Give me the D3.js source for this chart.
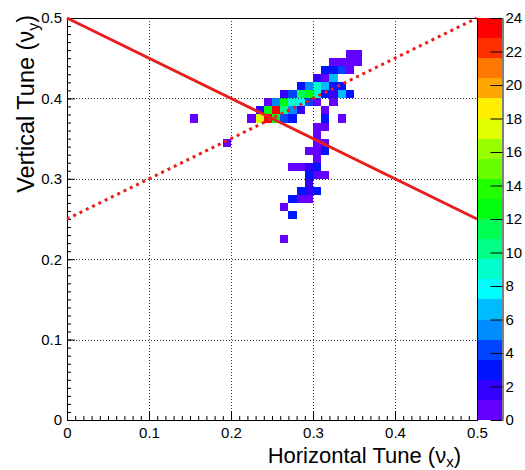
<!DOCTYPE html>
<html>
<head>
<meta charset="utf-8">
<script src="https://cdn.jsdelivr.net/npm/d3@7"></script>
<style>
  body { margin: 0; background: #fff; }
  text { font-family: "Liberation Sans", Arial, Helvetica, sans-serif; fill: #000; }
</style>
</head>
<body>
<svg id="chart" width="525" height="470"></svg>
<script>
// bin lower edges (nu_x, nu_y) and entries of the tune histogram
const tuneX = [
  0.34, 0.35,
  0.32, 0.33, 0.34, 0.35,
  0.31, 0.32, 0.33, 0.34,
  0.30, 0.31, 0.32,
  0.28, 0.29, 0.30, 0.31, 0.32, 0.33,
  0.26, 0.27, 0.28, 0.29, 0.30, 0.31, 0.32, 0.33, 0.34,
  0.24, 0.25, 0.26, 0.27, 0.28, 0.29, 0.30, 0.32,
  0.23, 0.24, 0.25, 0.26, 0.27, 0.28, 0.31,
  0.15, 0.22, 0.23, 0.24, 0.25, 0.26, 0.27, 0.31, 0.33,
  0.30, 0.31,
  0.30,
  0.19, 0.30, 0.31,
  0.29, 0.30, 0.31,
  0.30,
  0.27, 0.28, 0.29, 0.30,
  0.29, 0.30, 0.31,
  0.29,
  0.28, 0.29, 0.30,
  0.27, 0.28, 0.29,
  0.26,
  0.27,
  0.26
]
const tuneY = [
  0.45, 0.45,
  0.44, 0.44, 0.44, 0.44,
  0.43, 0.43, 0.43, 0.43,
  0.42, 0.42, 0.42,
  0.41, 0.41, 0.41, 0.41, 0.41, 0.41,
  0.40, 0.40, 0.40, 0.40, 0.40, 0.40, 0.40, 0.40, 0.40,
  0.39, 0.39, 0.39, 0.39, 0.39, 0.39, 0.39, 0.39,
  0.38, 0.38, 0.38, 0.38, 0.38, 0.38, 0.38,
  0.37, 0.37, 0.37, 0.37, 0.37, 0.37, 0.37, 0.37, 0.37,
  0.36, 0.36,
  0.35,
  0.34, 0.34, 0.34,
  0.33, 0.33, 0.33,
  0.32,
  0.31, 0.31, 0.31, 0.31,
  0.30, 0.30, 0.30,
  0.29,
  0.28, 0.28, 0.28,
  0.27, 0.27, 0.27,
  0.26,
  0.25,
  0.22
]
const counts = [
  1, 1,
  1, 1, 1, 1,
  3, 3, 4, 1,
  2, 1, 7,
  3, 5, 9, 7, 3, 3,
  2, 4, 11, 13, 9, 3, 2, 7, 3,
  1, 5, 13, 9, 8, 4, 1, 1,
  2, 13, 24, 10, 5, 2, 1,
  1, 1, 17, 23, 13, 4, 3, 3, 1,
  1, 1,
  1,
  1, 1, 1,
  1, 1, 3,
  1,
  1, 1, 2, 3,
  3, 1, 1,
  2,
  3, 2, 3,
  3, 1, 1,
  1,
  3,
  1
]

const binWidth = 0.01
const axisTicks = [0, 0.1, 0.2, 0.3, 0.4, 0.5]
const zTicks = [0, 2, 4, 6, 8, 10, 12, 14, 16, 18, 20, 22, 24]
const zMax = 24
const nContours = 20

// resonance lines
const lineSolid = [[0, 0.5], [0.5, 0.25]]
const lineDotted = [[0, 0.25], [0.5, 0.5]]

const svg = d3.select('#chart')
const fLeft = 67, fRight = 477, fTop = 18, fBottom = 420

const x = d3.scaleLinear().domain([0, 0.5]).range([fLeft, fRight])
const y = d3.scaleLinear().domain([0, 0.5]).range([fBottom, fTop])
const z = d3.scaleLinear().domain([0, zMax]).range([fBottom, fTop])

// ROOT "pretty" palette, 20 contours picked out of 50 colours
const palette = d3.range(nContours).map(c => {
  const i = Math.floor((c + 0.99) * 50 / nContours)
  return d3.hsl(280 - (i + 1) * 5.6, 1, 0.5).formatHex()
})
const colorScale = d3.scaleQuantize().domain([0, zMax]).range(palette)

const cells = counts.map((v, i) => ({ x: tuneX[i], y: tuneY[i], v: v }))

svg.append('rect')
  .attr('width', 525).attr('height', 470).attr('fill', '#fff')

const g = svg.append('g')

g.selectAll('rect.cell')
  .data(cells)
  .enter()
  .append('rect')
  .attr('class', 'cell')
  .attr('x', d => x(d.x))
  .attr('y', d => y(d.y + binWidth))
  .attr('width', d => x(d.x + binWidth) - x(d.x))
  .attr('height', d => y(d.y) - y(d.y + binWidth))
  .attr('fill', d => colorScale(Math.min(d.v, zMax - 1e-6)))
  .attr('shape-rendering', 'crispEdges')

// dotted grid
const gridVals = axisTicks.slice(1, -1)
g.selectAll('line.gx')
  .data(gridVals).enter().append('line')
  .attr('x1', d => Math.round(x(d)) + 0.5).attr('x2', d => Math.round(x(d)) + 0.5)
  .attr('y1', fTop).attr('y2', fBottom)
  .attr('stroke', '#333').attr('stroke-dasharray', '1,2')
g.selectAll('line.gy')
  .data(gridVals).enter().append('line')
  .attr('y1', d => Math.round(y(d)) + 0.5).attr('y2', d => Math.round(y(d)) + 0.5)
  .attr('x1', fLeft).attr('x2', fRight)
  .attr('stroke', '#333').attr('stroke-dasharray', '1,2')

// axes
const minorVals = d3.range(0, 51).map(i => i / 100)

svg.append('g')
  .attr('transform', `translate(0,${fBottom})`)
  .call(d3.axisBottom(x).tickValues(minorVals).tickSize(-4).tickFormat(''))
  .call(a => a.select('.domain').remove())

svg.append('g')
  .attr('transform', `translate(0,${fBottom})`)
  .call(d3.axisBottom(x).tickValues(axisTicks).tickSize(-9).tickPadding(7)
    .tickFormat(d => d === 0 ? '0' : d3.format('.1f')(d)))
  .call(a => a.select('.domain').remove())
  .selectAll('text').attr('font-size', 15)

svg.append('g')
  .attr('transform', `translate(${fLeft},0)`)
  .call(d3.axisLeft(y).tickValues(minorVals).tickSize(-4).tickFormat(''))
  .call(a => a.select('.domain').remove())

svg.append('g')
  .attr('transform', `translate(${fLeft},0)`)
  .call(d3.axisLeft(y).tickValues(axisTicks).tickSize(-8).tickPadding(5)
    .tickFormat(d => d === 0 ? '0' : d3.format('.1f')(d)))
  .call(a => a.select('.domain').remove())
  .selectAll('text').attr('font-size', 15)

svg.selectAll('.tick line').attr('stroke', '#000')

// frame
svg.append('rect')
  .attr('x', fLeft + 0.5).attr('y', fTop + 0.5)
  .attr('width', fRight - fLeft).attr('height', fBottom - fTop)
  .attr('fill', 'none').attr('stroke', '#000')

// resonance lines
const lineGen = d3.line().x(d => x(d[0])).y(d => y(d[1]))
svg.append('path')
  .attr('d', lineGen(lineSolid))
  .attr('stroke', '#e81e1e').attr('stroke-width', 3).attr('fill', 'none')
svg.append('path')
  .attr('d', lineGen(lineDotted))
  .attr('stroke', '#e81e1e').attr('stroke-width', 3).attr('fill', 'none')
  .attr('stroke-dasharray', '3,4')

// colour bar
const barX = 478, barW = 24
const bands = d3.range(nContours).map(c => [c * zMax / nContours, (c + 1) * zMax / nContours])
svg.append('g').selectAll('rect')
  .data(bands).enter().append('rect')
  .attr('x', barX)
  .attr('y', d => z(d[1]))
  .attr('width', barW)
  .attr('height', d => z(d[0]) - z(d[1]))
  .attr('fill', (d, i) => palette[i])
  .attr('shape-rendering', 'crispEdges')

svg.append('g')
  .attr('transform', `translate(${barX + barW + 0.5},0)`)
  .call(d3.axisRight(z).tickValues(zTicks).tickSize(-12).tickSizeOuter(0).tickPadding(3))
  .call(a => a.select('.domain').attr('stroke', '#000'))
  .call(a => a.selectAll('.tick line').attr('stroke', '#000'))
  .selectAll('text').attr('font-size', 15)

// axis titles
const xTitle = svg.append('text')
  .attr('x', 461).attr('y', 463)
  .attr('text-anchor', 'end')
  .attr('font-size', 22)
xTitle.append('tspan').text('Horizontal Tune (\u03BD')
xTitle.append('tspan').text('x').attr('font-size', 15).attr('dy', 4)
xTitle.append('tspan').text(')').attr('dy', -4)

const yTitle = svg.append('text')
  .attr('transform', 'translate(34,15) rotate(-90)')
  .attr('text-anchor', 'end')
  .attr('font-size', 23.5)
yTitle.append('tspan').text('Vertical Tune (\u03BD')
yTitle.append('tspan').text('y').attr('font-size', 16).attr('dy', 5)
yTitle.append('tspan').text(')').attr('dy', -5)
</script>
</body>
</html>
